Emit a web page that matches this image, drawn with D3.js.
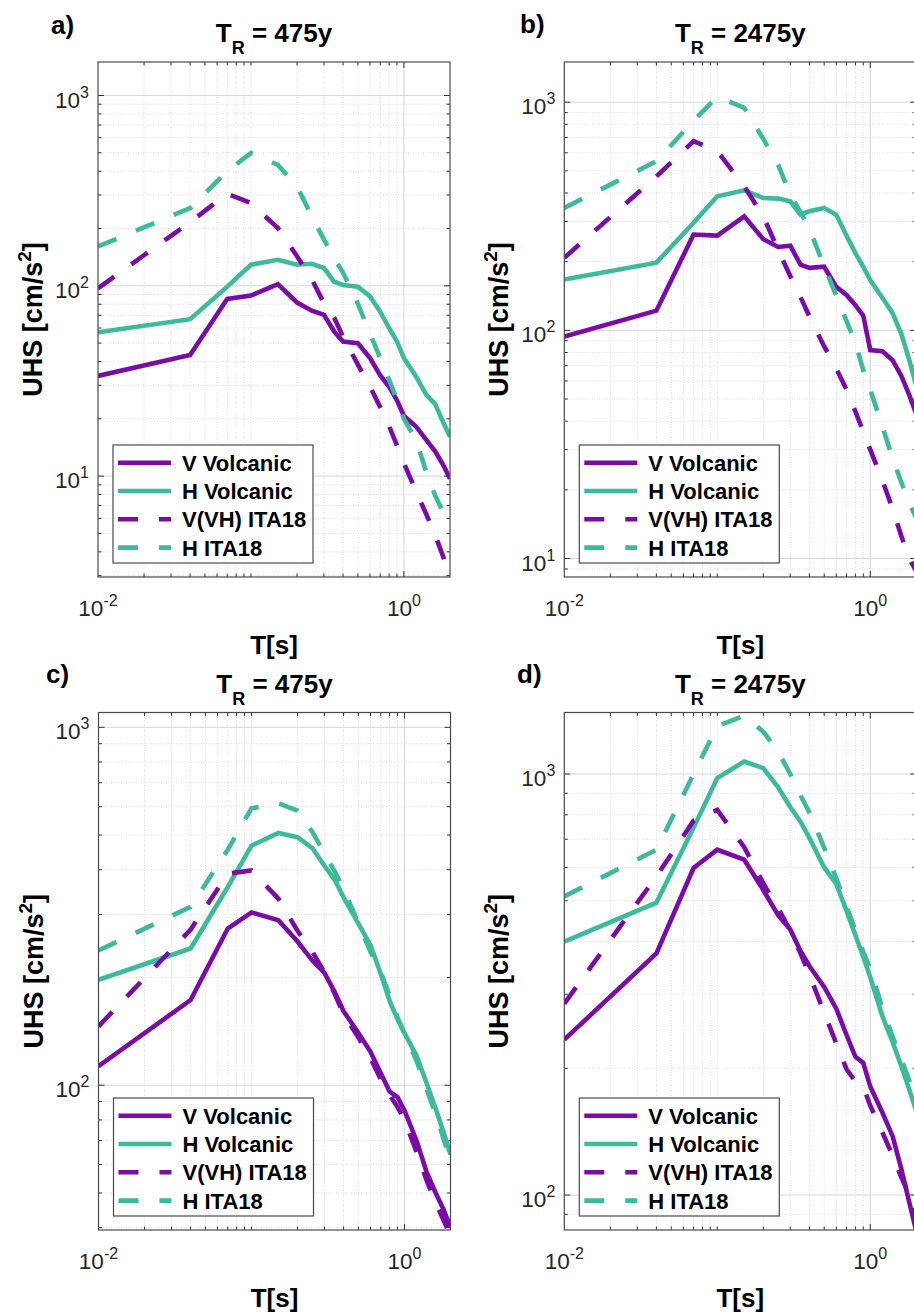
<!DOCTYPE html>
<html><head><meta charset="utf-8">
<script src="https://cdn.jsdelivr.net/npm/d3@7"></script>
<style>
body{margin:0;background:#fff}
svg{display:block;font-family:"Liberation Sans",Arial,Helvetica,sans-serif}
</style>
</head><body>
<svg id="chart" width="914" height="1313"></svg>
<script>
// ---------- DATA ----------
const periods = [0.01, 0.04, 0.07, 0.1, 0.15, 0.2, 0.25, 0.3, 0.35, 0.4, 0.5, 0.6, 0.7, 0.8, 0.9, 1.0, 1.2, 1.4, 1.6, 1.8, 2.0];
const seriesNames = ["V Volcanic", "H Volcanic", "V(VH) ITA18", "H ITA18"];

// panel a) TR = 475y
const vVolcA = [33.6, 43.3, 85.4, 88.9, 102, 81.7, 74, 70.4, 57.5, 51, 49.9, 41.7, 33.8, 29.5, 25, 20.7, 18.2, 15.5, 13.5, 11.5, 9.7];
const hVolcA = [57, 66.8, 99, 129, 137, 129, 130.6, 124, 105, 101, 99, 88, 73, 60, 51, 41.7, 33.4, 26.7, 23.9, 19.3, 16.1];
const vItaA  = [97, 216, 305, 272, 201, 143, 108, 81, 68, 54, 38.5, 29.5, 23, 18.3, 14.5, 11.7, 8.3, 6.3, 4.9, 3.8, 3.0];
const hItaA  = [161, 256, 400, 499, 432, 333, 232, 175, 140, 117, 80.5, 56, 41.7, 32, 25.3, 20, 15.5, 10.5, 7.9, 6.5, 5.4];

// panel b) TR = 2475y
const vVolcB = [94, 122, 263, 260, 316, 251, 232, 235, 194, 188, 190, 155, 143, 129, 116, 82, 81, 74, 63, 52, 43];
const hVolcB = [167, 198, 296, 387, 411, 380, 378, 368, 322, 333, 344, 321, 260, 218, 190, 166, 139, 119, 96, 74, 57];
const vItaB  = [208, 473, 675, 610, 428, 316, 225, 173, 140, 115, 85, 68, 55, 44, 36, 30, 22, 16.5, 12.5, 10, 8.8];
const hItaB  = [344, 551, 830, 1056, 945, 690, 530, 395, 330, 280, 190, 142, 110, 88, 67, 55, 38, 27.5, 21.5, 17.5, 15];

// panel c) TR = 475y
const vVolcC = [113, 173, 274, 304, 289, 252, 223, 206, 182, 161, 140, 124, 108, 96, 92.7, 85, 70, 57, 50, 45, 40];
const hVolcC = [197, 241, 358, 467, 507, 493, 460, 410, 375, 335, 283, 246, 205, 172, 153, 140, 121, 101, 86, 74, 64];
const vItaC  = [146, 272, 390, 398, 332, 270, 236, 207, 180, 158, 136, 119, 104, 94, 87, 80, 65, 54, 47, 42, 38];
const hItaC  = [238, 315, 455, 594, 613, 585, 510, 445, 395, 355, 283, 236, 207, 178, 155, 139, 117, 97, 83, 71, 61];

// panel d) TR = 2475y
const vVolcD = [234, 375, 598, 661, 626, 530, 462, 427, 380, 350, 312, 277, 240, 213, 206, 181, 157, 138, 115, 96, 82];
const hVolcD = [400, 495, 745, 978, 1071, 1033, 930, 835, 770, 705, 600, 548, 473, 414, 368, 329, 266, 231, 202, 178, 158];
const vItaD  = [285, 571, 775, 822, 670, 550, 480, 425, 375, 334, 271, 229, 199, 186, 181, 163, 141, 124, 110, 100, 91];
const hItaD  = [512, 661, 1000, 1300, 1376, 1260, 1130, 1000, 890, 810, 668, 565, 485, 425, 378, 345, 278, 238, 210, 187, 168];

const panelLabels = ["a)", "b)", "c)", "d)"];
const returnPeriods = ["475y", "2475y", "475y", "2475y"];
const xTickLabels = [{v: 0.01, e: "-2"}, {v: 1, e: "0"}];
const xLabel = "T[s]";
const yLabelMain = "UHS [cm/s";
const yLabelSup = "2";

// ---------- STYLE / LAYOUT ----------
const purple = "#7b0ba7";
const teal = "#3dba9c";
const seriesStyle = [
  {color: purple, dash: null},
  {color: teal, dash: null},
  {color: purple, dash: "20,21"},
  {color: teal, dash: "20,21"}
];
const xDomain = [0.01, 2];
const panels = [
  {left: 98,    top: 62,    right: 450,   bottom: 577,  yDom: [2.95, 1500], data: [vVolcA, hVolcA, vItaA, hItaA], lx: 51,  ly: 34,  ty: 42},
  {left: 564.3, top: 62,    right: 916.3, bottom: 577,  yDom: [8.3, 1500],  data: [vVolcB, hVolcB, vItaB, hItaB], lx: 520, ly: 33,  ty: 42},
  {left: 98.5,  top: 712.5, right: 450.5, bottom: 1230, yDom: [39.4, 1100], data: [vVolcC, hVolcC, vItaC, hItaC], lx: 46,  ly: 683, ty: 693},
  {left: 564.3, top: 712.5, right: 916.3, bottom: 1230, yDom: [82.6, 1400], data: [vVolcD, hVolcD, vItaD, hItaD], lx: 517, ly: 683, ty: 693}
];

const svg = d3.select("#chart");
const defs = svg.append("defs");
const isMajorY = v => Math.abs(Math.log10(v) - Math.round(Math.log10(v))) < 1e-9;
const isMajorX = v => xTickLabels.some(t => Math.abs(t.v - v) < 1e-12);

panels.forEach((p, i) => {
  const x = d3.scaleLog().domain(xDomain).range([p.left, p.right]);
  const y = d3.scaleLog().domain(p.yDom).range([p.bottom, p.top]);
  const g = svg.append("g");
  const w = p.right - p.left, h = p.bottom - p.top;

  defs.append("clipPath").attr("id", "clip" + i)
    .append("rect").attr("x", p.left).attr("y", p.top).attr("width", w).attr("height", h);

  g.append("rect").attr("x", p.left).attr("y", p.top).attr("width", w).attr("height", h).attr("fill", "#fff");

  const xt = x.ticks().filter(v => v > xDomain[0] * 1.0001 && v < xDomain[1] * 0.9999);
  const yt = y.ticks().filter(v => v > p.yDom[0] && v < p.yDom[1]);

  // minor grid
  g.selectAll(null).data(xt.filter(v => !isMajorX(v))).enter().append("line")
    .attr("x1", d => x(d)).attr("x2", d => x(d)).attr("y1", p.top).attr("y2", p.bottom)
    .attr("stroke", "#dcdcdc").attr("stroke-width", 1).attr("stroke-dasharray", "1,1.5");
  g.selectAll(null).data(yt.filter(v => !isMajorY(v))).enter().append("line")
    .attr("y1", d => y(d)).attr("y2", d => y(d)).attr("x1", p.left).attr("x2", p.right)
    .attr("stroke", "#dcdcdc").attr("stroke-width", 1).attr("stroke-dasharray", "1,1.5");
  // major grid
  g.selectAll(null).data(xt.filter(isMajorX)).enter().append("line")
    .attr("x1", d => x(d)).attr("x2", d => x(d)).attr("y1", p.top).attr("y2", p.bottom)
    .attr("stroke", "#d6d6d6").attr("stroke-width", 1);
  g.selectAll(null).data(yt.filter(isMajorY)).enter().append("line")
    .attr("y1", d => y(d)).attr("y2", d => y(d)).attr("x1", p.left).attr("x2", p.right)
    .attr("stroke", "#d6d6d6").attr("stroke-width", 1);

  // ticks (inward, all four sides)
  const tk = g.append("g").attr("stroke", "#333").attr("stroke-width", 1);
  xt.forEach(v => {
    const L = isMajorX(v) ? 6 : 3.5;
    tk.append("line").attr("x1", x(v)).attr("x2", x(v)).attr("y1", p.bottom).attr("y2", p.bottom - L);
    tk.append("line").attr("x1", x(v)).attr("x2", x(v)).attr("y1", p.top).attr("y2", p.top + L);
  });
  yt.forEach(v => {
    const L = isMajorY(v) ? 6 : 3.5;
    tk.append("line").attr("y1", y(v)).attr("y2", y(v)).attr("x1", p.left).attr("x2", p.left + L);
    tk.append("line").attr("y1", y(v)).attr("y2", y(v)).attr("x1", p.right).attr("x2", p.right - L);
  });

  // curves
  const line = d3.line().x(d => x(d.t)).y(d => y(d.v));
  const cg = g.append("g").attr("clip-path", `url(#clip${i})`);
  p.data.forEach((vals, s) => {
    const pts = periods.map((t, k) => ({t, v: vals[k]})).filter(d => d.v != null);
    cg.append("path").datum(pts).attr("d", line)
      .attr("fill", "none").attr("stroke", seriesStyle[s].color).attr("stroke-width", 4.6)
      .attr("stroke-linejoin", "miter").attr("stroke-miterlimit", 4).attr("stroke-linecap", "butt")
      .attr("stroke-dasharray", seriesStyle[s].dash);
  });

  // frame
  g.append("rect").attr("x", p.left).attr("y", p.top).attr("width", w).attr("height", h)
    .attr("fill", "none").attr("stroke", "#4a4a4a").attr("stroke-width", 1.2);

  // y tick labels
  yt.filter(isMajorY).forEach(v => {
    const t = g.append("text").attr("x", p.left - 9).attr("y", y(v) + 12)
      .attr("text-anchor", "end").attr("fill", "#262626").attr("font-size", 22.5);
    t.append("tspan").text("10");
    t.append("tspan").attr("dy", -10).attr("font-size", 16).text(Math.round(Math.log10(v)));
  });
  // x tick labels
  xTickLabels.forEach(tl => {
    const t = g.append("text").attr("x", x(tl.v)).attr("y", p.bottom + 39)
      .attr("text-anchor", "middle").attr("fill", "#262626").attr("font-size", 22.5);
    t.append("tspan").text("10");
    t.append("tspan").attr("dy", -10).attr("font-size", 16).text(tl.e);
  });

  const cx = (p.left + p.right) / 2, cy = (p.top + p.bottom) / 2;
  // x label
  g.append("text").attr("x", cx).attr("y", p.bottom + 77).attr("text-anchor", "middle")
    .attr("font-size", 26).attr("font-weight", "bold").attr("fill", "#000").text(xLabel);
  // y label
  const yl = g.append("text").attr("transform", `translate(${p.left - 56},${cy}) rotate(-90)`)
    .attr("text-anchor", "middle").attr("font-size", 27).attr("font-weight", "bold").attr("fill", "#000");
  yl.append("tspan").text(yLabelMain);
  yl.append("tspan").attr("dy", -11).attr("font-size", 19).text(yLabelSup);
  yl.append("tspan").attr("dy", 11).text("]");

  // title
  const tt = g.append("text").attr("x", cx).attr("y", p.ty).attr("text-anchor", "middle")
    .attr("font-size", 26).attr("font-weight", "bold").attr("fill", "#000");
  tt.append("tspan").text("T");
  tt.append("tspan").attr("dy", 12).attr("font-size", 18).text("R");
  tt.append("tspan").attr("dy", -12).text(" = " + returnPeriods[i]);

  // panel label
  g.append("text").attr("x", p.lx).attr("y", p.ly).attr("font-size", 26).attr("font-weight", "bold")
    .attr("fill", "#000").text(panelLabels[i]);

  // legend
  const bx = p.left + 15, bw = 200, bh = 118, by = p.bottom - 14 - bh;
  const lg = g.append("g");
  lg.append("rect").attr("x", bx).attr("y", by).attr("width", bw).attr("height", bh)
    .attr("fill", "#fff").attr("stroke", "#4a4a4a").attr("stroke-width", 1.2);
  seriesNames.forEach((name, s) => {
    const ry = by + 17.7 + s * 28.3;
    lg.append("line").attr("x1", bx + 5).attr("x2", bx + 58).attr("y1", ry).attr("y2", ry)
      .attr("stroke", seriesStyle[s].color).attr("stroke-width", 4.6)
      .attr("stroke-dasharray", seriesStyle[s].dash);
    lg.append("text").attr("x", bx + 69).attr("y", ry + 8).attr("font-size", 22)
      .attr("font-weight", "bold").attr("fill", "#000").text(name);
  });
});
</script>
</body></html>
